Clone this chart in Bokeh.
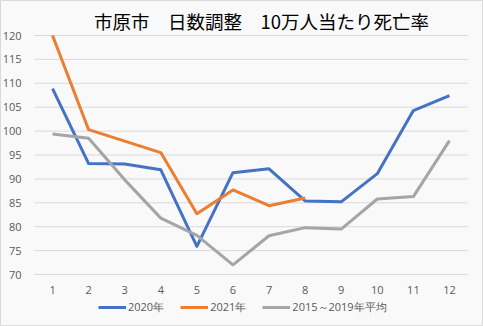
from bokeh.plotting import figure
from bokeh.models import Legend, LegendItem, Range1d, Label
from bokeh.core.properties import value
from bokeh.embed import file_html
from bokeh.resources import INLINE

months = [1, 2, 3, 4, 5, 6, 7, 8, 9, 10, 11, 12]
y2020 = [108.9, 93.2, 93.1, 91.9, 75.9, 91.3, 92.1, 85.4, 85.2, 91.1, 104.3, 107.4]
months_2021 = [1, 2, 3, 4, 5, 6, 7, 8]
y2021 = [120.0, 100.3, 97.9, 95.5, 82.7, 87.7, 84.4, 86.0]
y_avg = [99.4, 98.5, 89.8, 81.8, 78.2, 72.0, 78.1, 79.8, 79.5, 85.8, 86.3, 98.0]
yticks = [70, 75, 80, 85, 90, 95, 100, 105, 110, 115, 120]
names = ["2020年", "2021年", "2015～2019年平均"]
title_text = "市原市　日数調整　10万人当たり死亡率"

W, H = 483, 326
# plot area in pixels (inside the full canvas frame)
PL, PR, PT, PB = 34, 467, 35, 274
ymin, ymax = yticks[0], yticks[-1]
xmin, xmax = months[0] - 0.5, months[-1] + 0.5
pxx = (PR - PL) / (xmax - xmin)
pxy = (PB - PT) / (ymax - ymin)
x_range = Range1d(xmin - PL / pxx, xmax + (W - PR) / pxx)
y_range = Range1d(ymin - (H - PB) / pxy, ymax + PT / pxy)

BG = "#F9F9F9"
GRID = "#D9D9D9"
TXT = "#595959"
FONT = "Open Sans"

p = figure(width=W, height=H, output_backend="svg", toolbar_location=None,
           x_range=x_range, y_range=y_range,
           x_axis_location=None, y_axis_location=None,
           min_border=0, min_border_left=0, min_border_right=0,
           min_border_top=0, min_border_bottom=0,
           background_fill_color=BG, border_fill_color=BG)
p.outline_line_color = GRID
p.title.visible = False
p.xgrid.visible = False
p.ygrid.visible = False

# gridlines across the plot area
p.segment(x0=[xmin] * len(yticks), x1=[xmax] * len(yticks), y0=yticks, y1=yticks,
          line_color=GRID, line_width=1)

# tick labels
p.text(x=[xmin] * len(yticks), y=yticks, text=[str(t) for t in yticks],
       x_offset=-13, text_align="right", text_baseline="middle",
       text_font=value(FONT), text_font_size="11px", text_color=TXT)
p.text(x=months, y=[ymin] * len(months), text=[str(m) for m in months],
       y_offset=15, text_align="center", text_baseline="middle",
       text_font=value(FONT), text_font_size="11px", text_color=TXT)

r1 = p.line(months, y2020, line_color="#4472C4", line_width=3, line_join="round")
r2 = p.line(months_2021, y2021, line_color="#ED7D31", line_width=3, line_join="round")
r3 = p.line(months, y_avg, line_color="#A5A5A5", line_width=3, line_join="round")

title = Label(x=261, y=H - 20, x_units="screen", y_units="screen", text=title_text,
              text_align="center", text_baseline="middle",
              text_font="Noto Sans CJK JP", text_font_size="18.5px",
              text_font_style="normal", text_color="#000000")
p.add_layout(title)

legend = Legend(items=[LegendItem(label=names[0], renderers=[r1]),
                       LegendItem(label=names[1], renderers=[r2]),
                       LegendItem(label=names[2], renderers=[r3])],
                orientation="horizontal", location=(98, 11),
                background_fill_alpha=0, border_line_color=None,
                padding=0, margin=0, spacing=16, glyph_width=28, glyph_height=14,
                label_standoff=2, label_width=35, label_text_font=FONT,
                label_text_font_size="11px", label_text_color=TXT)
p.add_layout(legend, "center")

open("out.html", "w").write(file_html(p, INLINE))
